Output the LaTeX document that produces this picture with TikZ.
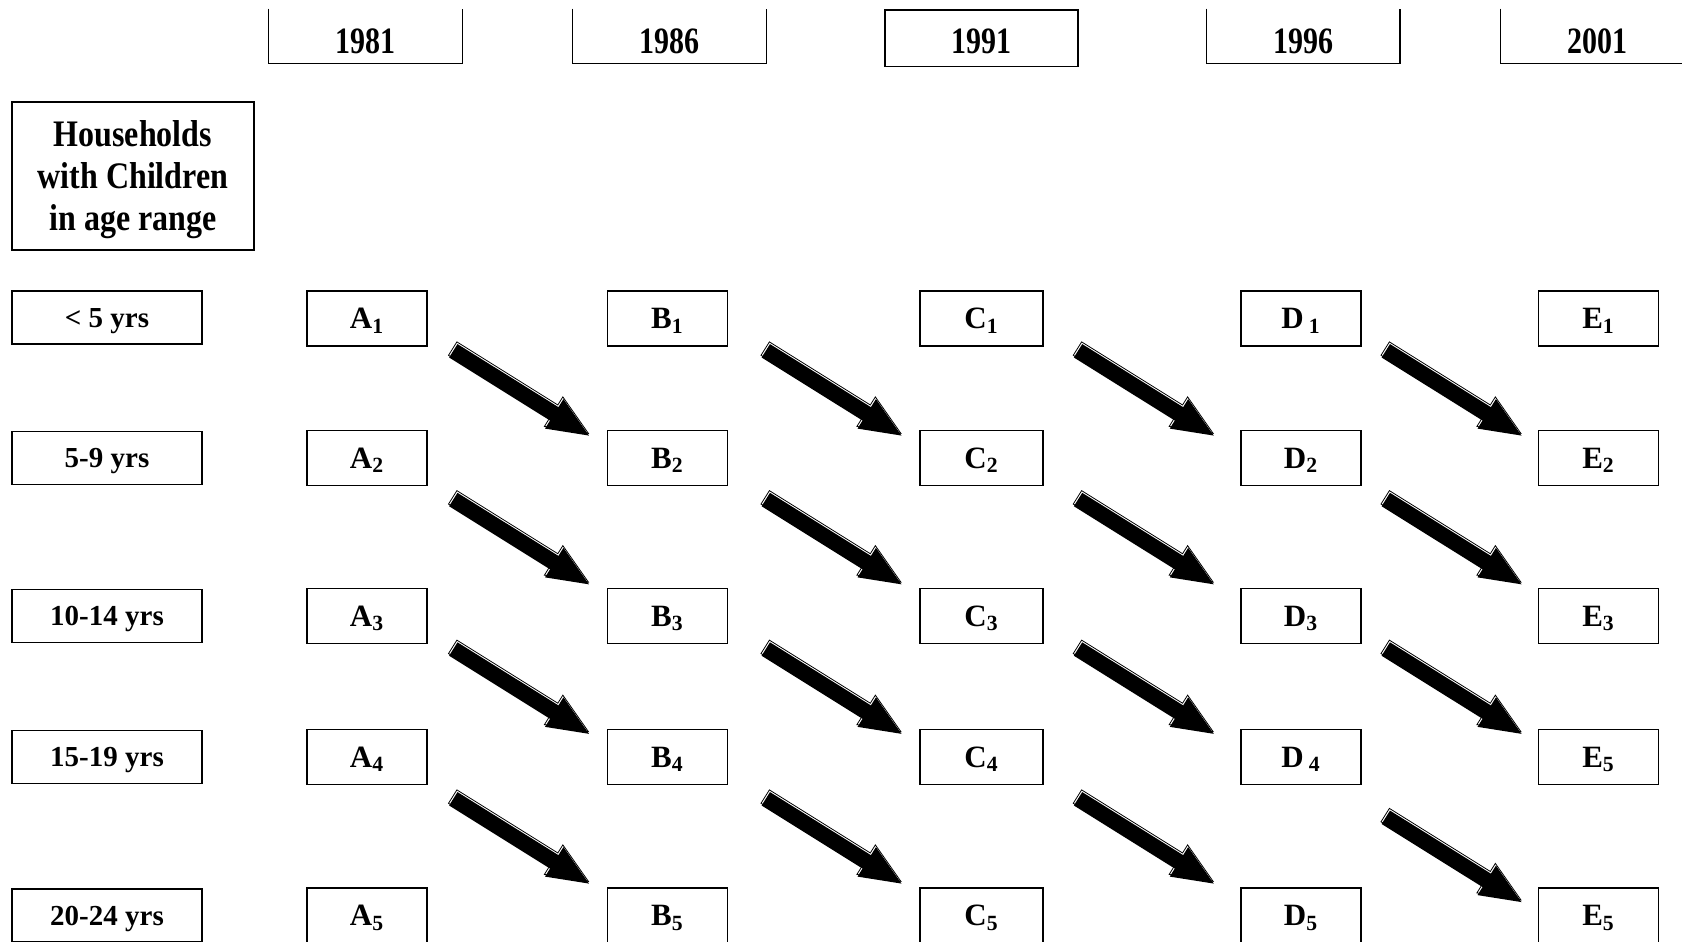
\documentclass[tikz,border=0pt]{standalone}
\usepackage{graphicx}
\usepackage{fontspec}
\setmainfont{Liberation Serif}
\usetikzlibrary{shapes.arrows,shadows}

\tikzset{
  yearbox/.style={inner sep=0pt, minimum width=96.5pt, text height=22.25pt, text depth=4.75pt,
    font=\fontsize{15}{18}\selectfont\bfseries},
  headbox/.style={draw, line width=0.6pt, inner sep=0pt, minimum width=121pt, minimum height=74pt,
    text height=60pt, text depth=5.4pt, align=center, font=\fontsize{16}{21}\selectfont\bfseries},
  agebox/.style={draw, line width=0.6pt, inner sep=0pt, minimum width=95pt, minimum height=26.5pt,
    text height=9.7pt, text depth=0pt, font=\fontsize{14.5}{17}\selectfont\bfseries},
  cellbox/.style={draw, line width=0.6pt, inner sep=0pt, minimum width=60pt, minimum height=27.5pt,
    text height=10.3pt, text depth=0pt, font=\fontsize{15.5}{18}\selectfont\bfseries},
  bigarrow/.style={xshift=-2pt, rotate=-32, single arrow, fill=black, inner xsep=0pt, inner ysep=3.75pt,
    text height=0pt, text depth=0pt, minimum height=80pt, single arrow head extend=4.75pt, single arrow tip angle=46,
    general shadow={shadow xshift=-0.3pt, shadow yshift=1.1pt, fill=white, draw=black, line width=0.4pt}}
}

\begin{document}
\begin{tikzpicture}[x=0.5pt, y=-0.5pt]
  \useasboundingbox (0,0) rectangle (1682,942);
  \clip (0,0) rectangle (1682,942);

  % years
  \node[yearbox] (y81) at (365.5,36) {\scalebox{1}[1.24]{1981}};
  \node[yearbox] (y86) at (669.5,36) {\scalebox{1}[1.24]{1986}};
  \node[yearbox, draw, line width=0.6pt, text height=21.75pt, text depth=6.5pt] (y91) at (981.5,38.25) {\scalebox{1}[1.24]{1991}};
  \node[yearbox] (y96) at (1303,36) {\scalebox{1}[1.24]{1996}};
  \node[yearbox] (y01) at (1597.5,36) {\scalebox{1}[1.24]{2001}};
  \draw[line width=0.6pt] (y81.north west) |- (y81.south east) -- (y81.north east);
  \draw[line width=0.6pt] (y86.north west) |- (y86.south east) -- (y86.north east);
  \draw[line width=0.6pt] (y96.north west) |- (y96.south east) -- (y96.north east);
  \draw[line width=0.6pt] (y01.north west) |- (y01.south east) -- (y01.north east);

  \node[headbox] (hh) at (133,176) {\scalebox{1}[1.17]{Households}\\ \scalebox{1}[1.17]{with Children}\\ \scalebox{1}[1.17]{in age range}};

  % age ranges
  \node[agebox] (age1) at (107,317.5) {< 5 yrs};
  \node[agebox] (age2) at (107,458) {5-9 yrs};
  \node[agebox] (age3) at (107,616) {10-14 yrs};
  \node[agebox] (age4) at (107,757) {15-19 yrs};
  \node[agebox] (age5) at (107,915.5) {20-24 yrs};

  % households per census
  \node[cellbox] (a1) at (367,318.5) {A\textsubscript{1}};
  \node[cellbox] (a2) at (367,458) {A\textsubscript{2}};
  \node[cellbox] (a3) at (367,616) {A\textsubscript{3}};
  \node[cellbox] (a4) at (367,757) {A\textsubscript{4}};
  \node[cellbox] (a5) at (367,915.5) {A\textsubscript{5}};
  \node[cellbox] (b1) at (667.5,318.5) {B\textsubscript{1}};
  \node[cellbox] (b2) at (667.5,458) {B\textsubscript{2}};
  \node[cellbox] (b3) at (667.5,616) {B\textsubscript{3}};
  \node[cellbox] (b4) at (667.5,757) {B\textsubscript{4}};
  \node[cellbox] (b5) at (667.5,915.5) {B\textsubscript{5}};
  \node[cellbox, minimum width=61.5pt] (c1) at (981.5,318.5) {C\textsubscript{1}};
  \node[cellbox, minimum width=61.5pt] (c2) at (981.5,458) {C\textsubscript{2}};
  \node[cellbox, minimum width=61.5pt] (c3) at (981.5,616) {C\textsubscript{3}};
  \node[cellbox, minimum width=61.5pt] (c4) at (981.5,757) {C\textsubscript{4}};
  \node[cellbox, minimum width=61.5pt] (c5) at (981.5,915.5) {C\textsubscript{5}};
  \node[cellbox] (d1) at (1301,318.5) {D\,\textsubscript{1}};
  \node[cellbox] (d2) at (1301,458) {D\textsubscript{2}};
  \node[cellbox] (d3) at (1301,616) {D\textsubscript{3}};
  \node[cellbox] (d4) at (1301,757) {D\,\textsubscript{4}};
  \node[cellbox] (d5) at (1301,915.5) {D\textsubscript{5}};
  \node[cellbox] (e1) at (1598.5,318.5) {E\textsubscript{1}};
  \node[cellbox] (e2) at (1598.5,458) {E\textsubscript{2}};
  \node[cellbox] (e3) at (1598.5,616) {E\textsubscript{3}};
  \node[cellbox] (e4) at (1598.5,757) {E\textsubscript{5}};
  \node[cellbox] (e5) at (1598.5,915.5) {E\textsubscript{5}};

  % ageing on by five years
  \path (a1.south east) -- (b2.north west) node[bigarrow, midway] {};
  \path (a2.south east) -- (b3.north west) node[bigarrow, midway] {};
  \path (a3.south east) -- (b4.north west) node[bigarrow, midway] {};
  \path (a4.south east) -- (b5.north west) node[bigarrow, midway] {};
  \path (b1.south east) -- (c2.north west) node[xshift=3pt, bigarrow, midway] {};
  \path (b2.south east) -- (c3.north west) node[xshift=3pt, bigarrow, midway] {};
  \path (b3.south east) -- (c4.north west) node[xshift=3pt, bigarrow, midway] {};
  \path (b4.south east) -- (c5.north west) node[xshift=3pt, bigarrow, midway] {};
  \path (c1.south east) -- (d2.north west) node[bigarrow, midway] {};
  \path (c2.south east) -- (d3.north west) node[bigarrow, midway] {};
  \path (c3.south east) -- (d4.north west) node[bigarrow, midway] {};
  \path (c4.south east) -- (d5.north west) node[bigarrow, midway] {};
  \path (d1.south east) -- (e2.north west) node[bigarrow, midway] {};
  \path (d2.south east) -- (e3.north west) node[bigarrow, midway] {};
  \path (d3.south east) -- (e4.north west) node[bigarrow, midway] {};
  \path (d4.south east) -- (e5.north west) node[yshift=-9.25pt, bigarrow, midway] {};
\end{tikzpicture}
\end{document}
